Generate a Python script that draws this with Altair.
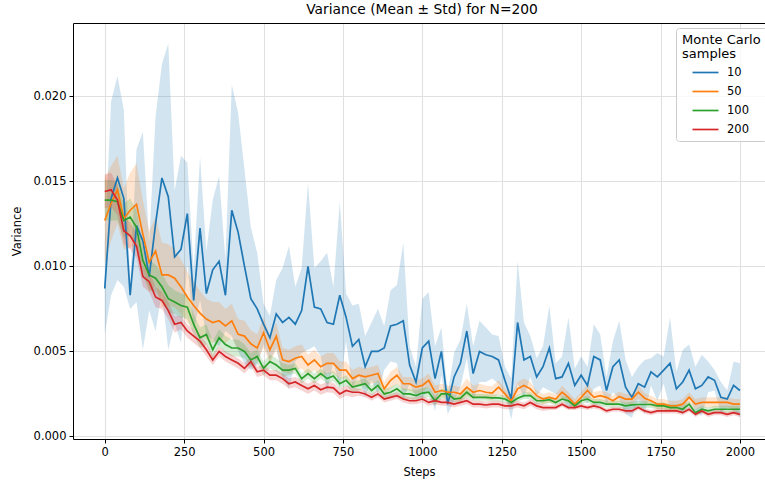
import altair as alt
import pandas as pd

steps = list(range(0, 2001, 20))
series_names = ["10", "50", "100", "200"]
colors = ["#1f77b4", "#ff7f0e", "#2ca02c", "#d62728"]
x_ticks = [0, 250, 500, 750, 1000, 1250, 1500, 1750, 2000]
y_ticks = [0.0, 0.005, 0.010, 0.015, 0.020]

mean_10 = [0.0087, 0.0140, 0.0152, 0.0140, 0.0083, 0.0124, 0.0115, 0.0094, 0.0125, 0.0152,
           0.0141, 0.01055, 0.0110, 0.0131, 0.0080, 0.01225, 0.0084, 0.0098, 0.0103, 0.0083,
           0.0133, 0.0120, 0.0100, 0.0081, 0.0075, 0.0066, 0.0058, 0.0072, 0.0067, 0.0070,
           0.0066, 0.0074, 0.0100, 0.0076, 0.0075, 0.0067, 0.0066, 0.0083, 0.0070, 0.0053,
           0.0057, 0.0041, 0.0050, 0.0050, 0.0052, 0.0065, 0.0066, 0.0068, 0.0042, 0.0032,
           0.0052, 0.0056, 0.0034, 0.0050, 0.0019, 0.0035, 0.0043, 0.0062, 0.0037, 0.0050,
           0.0048, 0.0047, 0.0045, 0.0033, 0.0022, 0.0067, 0.0045, 0.0047, 0.0035, 0.0041,
           0.0052, 0.0034, 0.0035, 0.0043, 0.0030, 0.0036, 0.0030, 0.0047, 0.0045, 0.0027,
           0.0041, 0.0045, 0.0029, 0.0023, 0.0031, 0.0029, 0.0038, 0.0035, 0.0039, 0.0043,
           0.0028, 0.0032, 0.0039, 0.0028, 0.0030, 0.0035, 0.0033, 0.0023, 0.0022, 0.0030,
           0.0027]
std_10 = [0.0027, 0.0057, 0.0060, 0.0052, 0.0008, 0.0045, 0.0064, 0.0020, 0.0063, 0.0067,
          0.0090, 0.0039, 0.0055, 0.0030, 0.0018, 0.0042, 0.0025, 0.0041, 0.0050, 0.0021,
          0.0074, 0.0070, 0.0057, 0.0042, 0.0033, 0.0012, 0.0013, 0.0020, 0.0032, 0.0042,
          0.0022, 0.0025, 0.0049, 0.0023, 0.0028, 0.0041, 0.0022, 0.0055, 0.0014, 0.0024,
          0.0021, 0.0018, 0.0017, 0.0025, 0.0013, 0.0021, 0.0023, 0.0046, 0.0011, 0.0009,
          0.0029, 0.0029, 0.0019, 0.0014, 0.0006, 0.0014, 0.0014, 0.0016, 0.0016, 0.0018,
          0.0016, 0.0013, 0.0014, 0.0008, 0.0012, 0.0036, 0.0022, 0.0012, 0.0011, 0.0012,
          0.0025, 0.0009, 0.0012, 0.0027, 0.0010, 0.0011, 0.0011, 0.0019, 0.0015, 0.0008,
          0.0015, 0.0023, 0.0016, 0.0012, 0.0010, 0.0016, 0.0008, 0.0014, 0.0008, 0.0027,
          0.0010, 0.0019, 0.0015, 0.0013, 0.0018, 0.0009, 0.0006, 0.0009, 0.0005, 0.0014,
          0.0016]

mean_50 = [0.0127, 0.0137, 0.0145, 0.0128, 0.0133, 0.01365, 0.0119, 0.01025, 0.0109, 0.0095,
           0.0095, 0.0093, 0.0088, 0.0082, 0.0077, 0.00725, 0.0069, 0.0067, 0.0068, 0.0065,
           0.0068, 0.0060, 0.0059, 0.00545, 0.0052, 0.0061, 0.0051, 0.0059, 0.0045, 0.0044,
           0.0046, 0.0047, 0.0042, 0.0045, 0.0041, 0.0043, 0.0043, 0.0039, 0.0039, 0.0034,
           0.0036, 0.0035, 0.0036, 0.0037, 0.0028, 0.0033, 0.0036, 0.0031, 0.0031, 0.0029,
           0.0030, 0.0033, 0.0026, 0.0027, 0.0026, 0.0026, 0.0025, 0.0029, 0.0026, 0.0027,
           0.0026, 0.00255, 0.0029, 0.0025, 0.0021, 0.0028, 0.0030, 0.0028, 0.0024, 0.0022,
           0.0023, 0.0022, 0.0026, 0.0023, 0.0019, 0.0023, 0.0027, 0.0023, 0.0024, 0.0023,
           0.0021, 0.00235, 0.0022, 0.0022, 0.0026, 0.00225, 0.0021, 0.0019, 0.0019, 0.0018,
           0.0018, 0.0019, 0.0023, 0.0019, 0.0020, 0.0020, 0.0020, 0.0020, 0.0020, 0.0019,
           0.0019]
std_50 = [0.0025, 0.0022, 0.0020, 0.0018, 0.0022, 0.0024, 0.0020, 0.0018, 0.0020, 0.0019,
          0.0018, 0.0017, 0.0016, 0.0015, 0.0014, 0.0013, 0.0012, 0.0012, 0.0011, 0.0010,
          0.0010, 0.0009, 0.0009, 0.0008, 0.0008, 0.0009, 0.0008, 0.0008, 0.0007, 0.0007,
          0.0007, 0.0007, 0.0006, 0.0006, 0.0006, 0.0006, 0.0006, 0.0005, 0.0005, 0.0005,
          0.0005, 0.0005, 0.0005, 0.0005, 0.0004, 0.0005, 0.0005, 0.0004, 0.0004, 0.0004,
          0.0004, 0.0004, 0.0004, 0.0004, 0.0004, 0.0004, 0.0004, 0.0005, 0.0004, 0.0004,
          0.0004, 0.0004, 0.0004, 0.0003, 0.0003, 0.0004, 0.0004, 0.0004, 0.0003, 0.0003,
          0.0003, 0.0003, 0.0004, 0.0003, 0.0003, 0.0003, 0.0004, 0.0003, 0.0003, 0.0003,
          0.0003, 0.0003, 0.0003, 0.0003, 0.0004, 0.0003, 0.0003, 0.0003, 0.0003, 0.0003,
          0.0003, 0.0003, 0.0003, 0.0003, 0.0003, 0.0003, 0.0003, 0.0003, 0.0003, 0.0003,
          0.0003]

mean_100 = [0.0139, 0.0139, 0.0138, 0.0127, 0.0129, 0.0123, 0.01035, 0.0095, 0.0093, 0.0088,
            0.0081, 0.0079, 0.0077, 0.0076, 0.0066, 0.0058, 0.0060, 0.0051, 0.0058, 0.0054,
            0.0052, 0.0052, 0.0050, 0.0045, 0.0047, 0.0040, 0.0044, 0.0042, 0.0039, 0.0039,
            0.0040, 0.0034, 0.0037, 0.0034, 0.0037, 0.0034, 0.00355, 0.0031, 0.0033, 0.0029,
            0.0030, 0.0031, 0.0027, 0.0030, 0.0025, 0.0026, 0.0028, 0.0025, 0.0025, 0.0024,
            0.00255, 0.0026, 0.0021, 0.0025, 0.0025, 0.0022, 0.00225, 0.0026, 0.0023, 0.0023,
            0.0023, 0.00227, 0.00227, 0.0022, 0.0020, 0.00225, 0.0024, 0.0024, 0.0021, 0.0021,
            0.00216, 0.0020, 0.0022, 0.0021, 0.0018, 0.0021, 0.0022, 0.0020, 0.0020, 0.0019,
            0.0019, 0.0019, 0.0018, 0.00186, 0.00188, 0.00188, 0.00188, 0.0018, 0.0018, 0.0017,
            0.0017, 0.0016, 0.0019, 0.0014, 0.0016, 0.0015, 0.0016, 0.0016, 0.0016, 0.0016,
            0.0016]
std_100 = [0.0012, 0.0012, 0.0011, 0.0010, 0.0011, 0.0010, 0.0009, 0.0009, 0.0008, 0.0008,
           0.0008, 0.0007, 0.0007, 0.0007, 0.0006, 0.0006, 0.0006, 0.0005, 0.0005, 0.0005,
           0.0005, 0.0005, 0.0004, 0.0004, 0.0004, 0.0004, 0.0004, 0.0004, 0.0004, 0.0003,
           0.0003, 0.0003, 0.0003, 0.0003, 0.0003, 0.0003, 0.0003, 0.0003, 0.0003, 0.0003,
           0.0003, 0.0003, 0.0003, 0.0003, 0.0003, 0.0003, 0.0003, 0.0003, 0.0003, 0.0003,
           0.0003, 0.0003, 0.0003, 0.0003, 0.0003, 0.0002, 0.0002, 0.0003, 0.0002, 0.0002,
           0.0002, 0.0002, 0.0002, 0.0002, 0.0002, 0.0002, 0.0002, 0.0002, 0.0002, 0.0002,
           0.0002, 0.0002, 0.0002, 0.0002, 0.0002, 0.0002, 0.0002, 0.0002, 0.0002, 0.0002,
           0.0002, 0.0002, 0.0002, 0.0002, 0.0002, 0.0002, 0.0002, 0.0002, 0.0002, 0.0002,
           0.0002, 0.0002, 0.0002, 0.0002, 0.0002, 0.0002, 0.0002, 0.0002, 0.0002, 0.0002,
           0.0002]

mean_200 = [0.0144, 0.0145, 0.0139, 0.0121, 0.0118, 0.0112, 0.0094, 0.0091, 0.0082, 0.0080,
            0.0074, 0.0066, 0.0067, 0.0062, 0.0059, 0.0056, 0.0051, 0.0045, 0.0050, 0.0047,
            0.0045, 0.0043, 0.0040, 0.0044, 0.0038, 0.0039, 0.0036, 0.0036, 0.0034, 0.0031,
            0.0032, 0.0030, 0.0028, 0.0030, 0.00275, 0.0029, 0.00286, 0.0025, 0.0027, 0.0026,
            0.0026, 0.0025, 0.0023, 0.0025, 0.0022, 0.0023, 0.0024, 0.0022, 0.0021, 0.0021,
            0.0022, 0.0020, 0.0021, 0.0020, 0.0020, 0.0019, 0.0020, 0.0021, 0.0019, 0.0019,
            0.00185, 0.0019, 0.0019, 0.0018, 0.0018, 0.0019, 0.0018, 0.0020, 0.0018, 0.0017,
            0.0017, 0.0017, 0.0019, 0.0017, 0.0017, 0.0018, 0.0017, 0.0018, 0.0017, 0.0015,
            0.0016, 0.0016, 0.0015, 0.0015, 0.0017, 0.0015, 0.0014, 0.0015, 0.0015, 0.0015,
            0.0015, 0.0014, 0.0016, 0.0013, 0.0015, 0.0013, 0.0014, 0.0014, 0.0013, 0.0014,
            0.0013]
std_200 = [0.0010, 0.0010, 0.0009, 0.0008, 0.0008, 0.0007, 0.0006, 0.0006, 0.0006, 0.0005,
           0.0005, 0.0005, 0.0004, 0.0004, 0.0004, 0.0004, 0.0004, 0.0003, 0.0003, 0.0003,
           0.0003, 0.0003, 0.0003, 0.0003, 0.0003, 0.0003, 0.0003, 0.0003, 0.0003, 0.0003,
           0.0003, 0.0003, 0.0003, 0.0003, 0.0003, 0.0003, 0.0003, 0.0003, 0.0003, 0.0003,
           0.0002, 0.0002, 0.0002, 0.0002, 0.0002, 0.0002, 0.0002, 0.0002, 0.0002, 0.0002,
           0.0002, 0.0002, 0.0002, 0.0002, 0.0002, 0.0002, 0.0002, 0.0002, 0.0002, 0.0002,
           0.0002, 0.0002, 0.0002, 0.0002, 0.0002, 0.0002, 0.0002, 0.0002, 0.0002, 0.0002,
           0.00015, 0.00015, 0.00015, 0.00015, 0.00015, 0.00015, 0.00015, 0.00015, 0.00015, 0.00015,
           0.00015, 0.00015, 0.00015, 0.00015, 0.00015, 0.00015, 0.00015, 0.00015, 0.00015, 0.00015,
           0.00015, 0.00015, 0.00015, 0.00015, 0.00015, 0.00015, 0.00015, 0.00015, 0.00015, 0.00015,
           0.00015]

means = [mean_10, mean_50, mean_100, mean_200]
stds = [std_10, std_50, std_100, std_200]

rows = []
for name, m, s in zip(series_names, means, stds):
    for st, mv, sv in zip(steps, m, s):
        rows.append({"step": st, "series": name, "band": name,
                     "mean": mv, "lo": mv - sv, "hi": mv + sv})
df = pd.DataFrame(rows)

FONT = "DejaVu Sans"
FS = 11.5

xscale = alt.Scale(domain=[-100, 2079], nice=False, zero=False)
yscale = alt.Scale(domain=[-0.00015, 0.02431], nice=False, zero=False)

x_axis = alt.Axis(values=x_ticks, format="d", title="Steps", grid=True,
                  gridColor="#e0e0e0", gridWidth=1.1, tickSize=4, tickColor="black",
                  domainColor="black", labelColor="black", titleColor="black",
                  labelFontSize=FS, titleFontSize=FS, titleFontWeight="normal",
                  labelPadding=3, titlePadding=9, labelFlush=False)
x_axis_top = alt.Axis(orient="top", labels=False, ticks=False, grid=False, title="",
                      domainColor="black")
y_axis = alt.Axis(values=y_ticks, format=".3f", title="Variance", grid=True,
                  gridColor="#e0e0e0", gridWidth=1.1, tickSize=4, tickColor="black",
                  domainColor="black", labelColor="black", titleColor="black",
                  labelFontSize=FS, titleFontSize=FS, titleFontWeight="normal",
                  labelPadding=3, titlePadding=11)

bands = alt.Chart(df).mark_area(opacity=0.2).encode(
    x=alt.X("step:Q", scale=xscale, axis=x_axis),
    y=alt.Y("lo:Q", scale=yscale, axis=y_axis),
    y2="hi:Q",
    fill=alt.Fill("band:N", scale=alt.Scale(domain=series_names, range=colors), legend=None),
)

legend = alt.Legend(title=["Monte Carlo", "samples"], orient="none",
                    legendX=603, legendY=5,
                    symbolType="M-2,0H2", symbolSize=169,
                    symbolStrokeWidth=1.7, symbolOffset=16,
                    labelOffset=14, padding=6, rowPadding=6,
                    titlePadding=4, strokeColor="#cccccc",
                    fillColor="rgba(255,255,255,0.8)", cornerRadius=3,
                    labelFontSize=FS, titleFontSize=13,
                    titleFontWeight="normal", titleLineHeight=14,
                    labelColor="black", titleColor="black")

lines = alt.Chart(df).mark_line(strokeWidth=1.7).encode(
    x=alt.X("step:Q", scale=xscale, axis=x_axis_top),
    y=alt.Y("mean:Q", scale=yscale),
    stroke=alt.Stroke("series:N", scale=alt.Scale(domain=series_names, range=colors),
                      legend=legend),
    order=alt.Order("step:Q"),
)

chart = alt.layer(bands, lines).resolve_axis(x="independent").resolve_scale(
    fill="independent", stroke="independent"
).properties(
    width=692, height=416,
    title=alt.TitleParams("Variance (Mean ± Std) for N=200", fontSize=13.8, font=FONT,
                          fontWeight="normal", color="black", anchor="middle", offset=6, dx=3),
    autosize=alt.AutoSizeParams(type="none"),
    padding={"left": 73, "top": 23, "right": 0, "bottom": 45},
).configure(font=FONT).configure_view(stroke=None)

chart.save("out.html", embed_options={"renderer": "svg", "actions": False})
